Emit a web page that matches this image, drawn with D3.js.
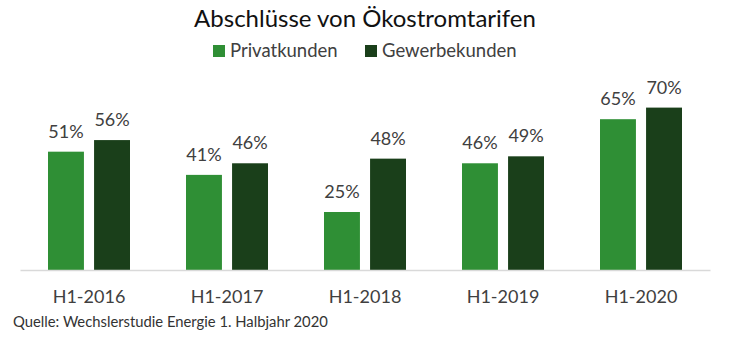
<!DOCTYPE html>
<html>
<head>
<meta charset="utf-8">
<script src="https://cdn.jsdelivr.net/npm/d3@7"></script>
<style>
  body { margin: 0; background: #fff; }
  svg { font-family: Lato, "Open Sans", sans-serif; }
</style>
</head>
<body>
<div id="chart"></div>
<script>
// Half-year periods and share of green tariff contracts (%)
const periods = ["H1-2016", "H1-2017", "H1-2018", "H1-2019", "H1-2020"];
const seriesNames = ["Privatkunden", "Gewerbekunden"];
const privatValues = [51, 41, 25, 46, 65];
const gewerbeValues = [56, 46, 48, 49, 70];
const seriesColors = ["#2f8f35", "#1a3f1a"];

const width = 730;
const height = 340;
const margin = { top: 80, right: 20, bottom: 70, left: 20 };

const svg = d3
  .select("#chart")
  .append("svg")
  .attr("width", width)
  .attr("height", height);

const rows = periods.map((p, i) => ({
  period: p,
  values: [privatValues[i], gewerbeValues[i]],
}));

const x0 = d3
  .scaleBand()
  .domain(periods)
  .range([margin.left, width - margin.right])
  .paddingInner(0)
  .paddingOuter(0);

const x1 = d3
  .scaleBand()
  .domain(seriesNames)
  .range([0, 82])
  .paddingInner(0.22);

const y = d3
  .scaleLinear()
  .domain([0, 70])
  .range([height - margin.bottom, 107.6]);

// title
svg
  .append("text")
  .attr("x", width / 2)
  .attr("y", 27)
  .attr("text-anchor", "middle")
  .style("font-size", "24px")
  .style("fill", "#111")
  .text("Abschlüsse von Ökostromtarifen");

// legend
const legend = svg.append("g").attr("transform", "translate(213,51)");
const legendX = [0, 152];
seriesNames.forEach((name, i) => {
  const g = legend.append("g").attr("transform", `translate(${legendX[i]},0)`);
  g.append("rect")
    .attr("x", 0)
    .attr("y", -6)
    .attr("width", 12)
    .attr("height", 12)
    .attr("fill", seriesColors[i]);
  g.append("text")
    .attr("x", 17)
    .attr("y", 0)
    .attr("dy", "0.35em")
    .style("font-size", "18.5px")
    .style("fill", "#404040")
    .text(name);
});

// bars
const groups = svg
  .selectAll(".group")
  .data(rows)
  .enter()
  .append("g")
  .attr("class", "group")
  .attr("transform", (d) => `translate(${x0(d.period) + (x0.bandwidth() - 82) / 2},0)`);

const bars = groups
  .selectAll(".bar")
  .data((d) => d.values.map((v, i) => ({ key: seriesNames[i], value: v, i })))
  .enter();

bars
  .append("rect")
  .attr("class", "bar")
  .attr("x", (d) => x1(d.key))
  .attr("y", (d) => y(d.value))
  .attr("width", x1.bandwidth())
  .attr("height", (d) => y(0) - y(d.value))
  .attr("fill", (d) => seriesColors[d.i]);

bars
  .append("text")
  .attr("x", (d) => x1(d.key) + x1.bandwidth() / 2)
  .attr("y", (d) => y(d.value) - 14)
  .attr("text-anchor", "middle")
  .style("font-size", "18px")
  .style("fill", "#404040")
  .text((d) => d.value + "%");

// x axis
const xAxis = d3.axisBottom(x0).tickSize(0).tickPadding(20);
const axisG = svg
  .append("g")
  .attr("transform", `translate(0,${y(0)})`)
  .call(xAxis);
axisG.select(".domain").attr("stroke", "#d9d9d9").attr("stroke-width", 1.5);
axisG
  .selectAll("text")
  .style("font-size", "18px")
  .style("font-family", "Lato, 'Open Sans', sans-serif")
  .style("fill", "#404040");

// source note
svg
  .append("text")
  .attr("x", 13)
  .attr("y", 327)
  .style("font-size", "14.8px")
  .style("fill", "#333")
  .text("Quelle: Wechslerstudie Energie 1. Halbjahr 2020");
</script>
</body>
</html>
